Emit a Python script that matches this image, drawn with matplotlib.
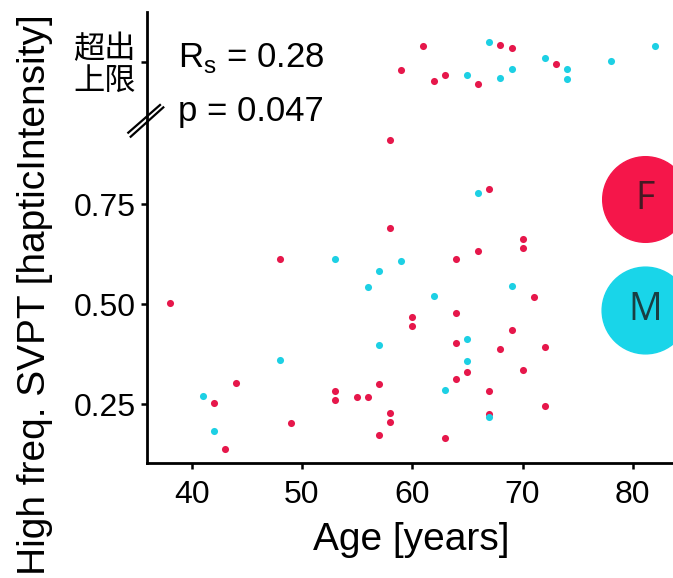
import matplotlib
matplotlib.use('Agg')
import matplotlib.pyplot as plt

plt.rcParams['font.family'] = ['Liberation Sans', 'Noto Sans CJK SC', 'DejaVu Sans']
plt.rcParams['mathtext.fontset'] = 'custom'
plt.rcParams['mathtext.rm'] = 'Liberation Sans'

# female (red) points below the limit
f_age = [38, 42, 43, 44, 48, 49, 53, 53, 55, 56, 57, 57, 58, 58, 58, 58, 60, 60,
         63, 64, 64, 64, 64, 65, 66, 67, 67, 67, 68, 69, 70, 70, 70, 71, 72, 72]
f_val = [0.503, 0.252, 0.138, 0.302, 0.613, 0.2025, 0.283, 0.26, 0.2675, 0.268, 0.30, 0.172,
         0.91, 0.691, 0.2275, 0.206, 0.468, 0.445, 0.165, 0.613, 0.478, 0.403, 0.3125, 0.329,
         0.633, 0.7875, 0.282, 0.224, 0.387, 0.434, 0.663, 0.639, 0.335, 0.517, 0.392, 0.244]

# male (cyan) points below the limit
m_age = [41, 42, 48, 53, 56, 57, 57, 59, 62, 63, 65, 65, 66, 67, 69]
m_val = [0.271, 0.182, 0.36, 0.613, 0.543, 0.3975, 0.5825, 0.608, 0.52, 0.286, 0.412,
         0.358, 0.778, 0.2175, 0.545]

# points above the limit (y = jittered position in the top band)
f_over_age = [59, 61, 62, 63, 66, 68, 69, 73]
f_over_y = [1.085, 1.145, 1.058, 1.073, 1.05, 1.148, 1.14, 1.099]
m_over_age = [65, 67, 68, 69, 72, 74, 74, 78, 82]
m_over_y = [1.073, 1.156, 1.065, 1.0875, 1.114, 1.087, 1.063, 1.1075, 1.146]

yticks = [0.25, 0.50, 0.75, 1.105]
ytick_labels = ['0.25', '0.50', '0.75', '超出\n上限']
xticks = [40, 50, 60, 70, 80]

red = '#E6174B'
cyan = '#1DD0E4'

fig = plt.figure(figsize=(6.73, 5.78), dpi=100)
ax = fig.add_axes([147/673, 1 - 463/578, 526/673, 451/578])

ax.scatter(f_age + f_over_age, f_val + f_over_y, s=26, color=red, linewidths=0, zorder=3)
ax.scatter(m_age + m_over_age, m_val + m_over_y, s=26, color=cyan, linewidths=0, zorder=4)

ax.set_xlim(35.95, 83.64)
ax.set_ylim(0.1025, 1.23)
ax.set_xticks(xticks)
ax.set_yticks(yticks)
ax.set_yticklabels(ytick_labels)
ax.tick_params(axis='both', width=1.8, length=4, labelsize=23, color='black')
ax.tick_params(axis='x', pad=8)
ax.tick_params(axis='y', pad=4)
for lab in ax.get_yticklabels():
    if '超' in lab.get_text():
        lab.set_fontsize(22.5)
        lab.set_linespacing(1.05)
        lab.set_y(1.1)

for s in ['top', 'right']:
    ax.spines[s].set_visible(False)
for s in ['left', 'bottom']:
    ax.spines[s].set_linewidth(2)

# break marks on the y axis
ax.plot([-0.0356, 0.0247], [0.7324, 0.7938], transform=ax.transAxes, color='black', lw=1.6, clip_on=False)
ax.plot([-0.0310, 0.0310], [0.7235, 0.7885], transform=ax.transAxes, color='black', lw=1.6, clip_on=False)

ax.text(0.059, 0.878, r'R$_\mathregular{s}$ = 0.28', transform=ax.transAxes, fontsize=25, va='baseline')
ax.text(0.059, 0.758, 'p = 0.047', transform=ax.transAxes, fontsize=25, va='baseline')

# legend circles
ax.scatter([0.947], [0.586], s=3800, color='#F5164A', transform=ax.transAxes, clip_on=False, zorder=5)
ax.scatter([0.947], [0.340], s=3900, color='#19D5E9', transform=ax.transAxes, clip_on=False, zorder=5)
ax.text(0.947, 0.586, 'F', transform=ax.transAxes, ha='center', va='center', fontsize=27,
        family='Open Sans', color='#1a1a1a', alpha=0.8, zorder=6)
ax.text(0.947, 0.340, 'M', transform=ax.transAxes, ha='center', va='center', fontsize=27,
        family='Open Sans', color='#1a1a1a', alpha=0.8, zorder=6)

fig.text(411/673, 1 - 540/578, 'Age [years]', ha='center', va='center', fontsize=28)
fig.text(35/673, 1 - 295/578, 'High freq. SVPT [hapticIntensity]', ha='center', va='center',
         rotation=90, fontsize=28)

fig.savefig('out.png', dpi=100)
